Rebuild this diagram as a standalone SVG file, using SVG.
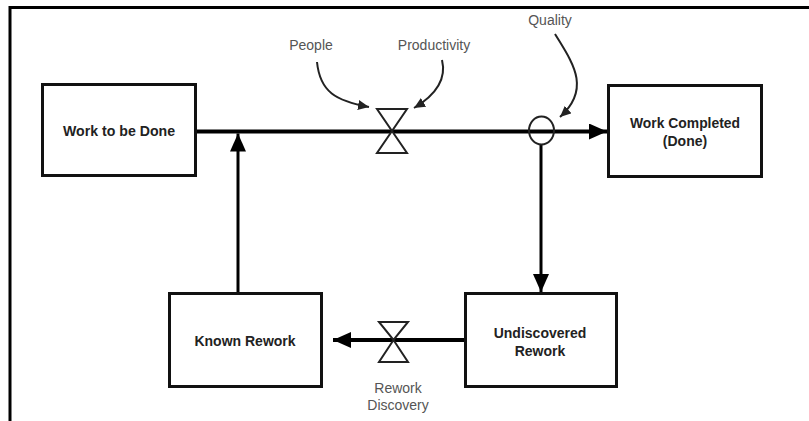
<svg xmlns="http://www.w3.org/2000/svg" width="809" height="421" viewBox="0 0 809 421">
<defs>
<style>
.box{fill:#fff;stroke:#111;stroke-width:3}
.lbl{font-family:"Liberation Sans",Arial,sans-serif;font-weight:bold;font-size:14px;fill:#222;text-anchor:middle}
.aux{font-family:"Liberation Sans",Arial,sans-serif;font-size:14px;fill:#555;text-anchor:middle}
.flow{stroke:#000;stroke-width:4;fill:none}
.link{stroke:#000;stroke-width:3;fill:none}
.info{stroke:#222;stroke-width:2;fill:none}
.valve{fill:#fff;stroke:#222;stroke-width:2;stroke-linejoin:miter}
</style>
<marker id="big" markerUnits="userSpaceOnUse" markerWidth="20" markerHeight="16" refX="18" refY="8" orient="auto">
<path d="M0,0 L18,8 L0,16 Z" fill="#000"/>
</marker>
<marker id="small" markerUnits="userSpaceOnUse" markerWidth="12" markerHeight="10" refX="11" refY="5" orient="auto">
<path d="M0,0 L11,5 L0,10 Z" fill="#222"/>
</marker>
</defs>
<rect width="809" height="421" fill="#fff"/>
<path d="M10,421 V7.5 H809" fill="none" stroke="#000" stroke-width="3"/>

<g id="connectors">
<line class="flow" x1="196" y1="131.5" x2="607" y2="131.5" marker-end="url(#big)"/>
<line class="link" x1="238" y1="292" x2="238" y2="133.5" marker-end="url(#big)"/>
<line class="link" x1="541" y1="144" x2="541" y2="292" marker-end="url(#big)"/>
<line class="flow" x1="465" y1="340" x2="333" y2="340" marker-end="url(#big)"/>
<path class="info" d="M317,62 C320,92 336,101 369,107" marker-end="url(#small)"/>
<path class="info" d="M442,60 C447,80 434,96 414,108" marker-end="url(#small)"/>
<path class="info" d="M555,34 C572,62 592,88 560,117" marker-end="url(#small)"/>
</g>

<g id="valve-work">
<path class="valve" d="M377,109 H407 L392,131 Z M392,131 L407,153 H377 Z"/>
</g>
<g id="quality-junction">
<ellipse cx="541.5" cy="130.5" rx="12.5" ry="14" fill="none" stroke="#222" stroke-width="2"/>
</g>
<g id="valve-rework">
<path class="valve" d="M379,322 H408 L393.5,340 Z M393.5,340 L408,362 H379 Z"/>
</g>

<g id="work-to-be-done">
<rect class="box" x="42.5" y="84.5" width="153" height="91"/>
<text class="lbl" x="119" y="136" textLength="112" lengthAdjust="spacingAndGlyphs">Work to be Done</text>
</g>
<g id="work-completed">
<rect class="box" x="608.5" y="85.5" width="153" height="91"/>
<text class="lbl" x="685" y="128" textLength="110" lengthAdjust="spacingAndGlyphs">Work Completed</text>
<text class="lbl" x="685" y="146">(Done)</text>
</g>
<g id="known-rework">
<rect class="box" x="169.5" y="293.5" width="152" height="93"/>
<text class="lbl" x="245" y="346">Known Rework</text>
</g>
<g id="undiscovered-rework">
<rect class="box" x="465.5" y="293.5" width="151" height="93"/>
<text class="lbl" x="540" y="338">Undiscovered</text>
<text class="lbl" x="540" y="356">Rework</text>
</g>

<g id="labels">
<text class="aux" x="311" y="50">People</text>
<text class="aux" x="434" y="50">Productivity</text>
<text class="aux" x="550" y="25">Quality</text>
<text class="aux" x="398" y="393">Rework</text>
<text class="aux" x="398" y="410">Discovery</text>
</g>
</svg>
